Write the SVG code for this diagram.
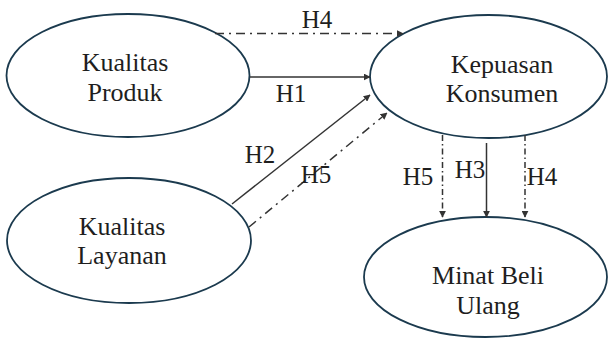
<svg xmlns="http://www.w3.org/2000/svg" width="609" height="338" viewBox="0 0 609 338">
<defs>
<marker id="ah" viewBox="0 0 10 10" refX="9" refY="5" markerWidth="7" markerHeight="7" markerUnits="userSpaceOnUse" orient="auto"><path d="M0,0 L10,5 L0,10 z" fill="#333"/></marker>
<style>
.node{fill:#fff;stroke:#1b3a4e;stroke-width:1.8}
.t{font-family:"Liberation Serif","Times New Roman",serif;font-size:26px;fill:#1e1e1e;text-anchor:middle}
.l{font-family:"Liberation Serif","Times New Roman",serif;font-size:25px;fill:#1e1e1e;text-anchor:middle}
.c{stroke:#333;stroke-width:1.5;fill:none;marker-end:url(#ah)}
.dd{stroke-dasharray:9 5 2 5}
.dv{stroke-dasharray:6 3 1.5 3}
</style>
</defs>
<rect width="609" height="338" fill="#fff"/>
<g id="kualitas-produk"><ellipse class="node" cx="128" cy="75.5" rx="121.5" ry="61.5"/><text class="t" x="125" y="71">Kualitas</text><text class="t" x="125" y="101">Produk</text></g>
<g id="kepuasan-konsumen"><ellipse class="node" cx="488.5" cy="76.5" rx="118.5" ry="61.5"/><text class="t" x="502" y="73">Kepuasan</text><text class="t" x="502" y="102">Konsumen</text></g>
<g id="kualitas-layanan"><ellipse class="node" cx="129" cy="240.5" rx="122" ry="62.5"/><text class="t" x="122" y="235">Kualitas</text><text class="t" x="122" y="264">Layanan</text></g>
<g id="minat-beli-ulang"><ellipse class="node" cx="485.5" cy="277" rx="121.5" ry="60"/><text class="t" x="488" y="284">Minat Beli</text><text class="t" x="488" y="314">Ulang</text></g>
<g id="connectors">
<path class="c dd" d="M215,33.5 L403,33.5"/>
<path class="c" d="M250,77 L370,77"/>
<path class="c" d="M232,204 L370,95"/>
<path class="c dd" d="M249,227 L387,113"/>
<path class="c dv" d="M442.5,135 L442.5,217"/>
<path class="c" d="M486.5,143 L486.5,217"/>
<path class="c dv" d="M525,135 L525,217"/>
</g>
<g id="labels">
<text class="l" x="317" y="28">H4</text>
<text class="l" x="291" y="102">H1</text>
<text class="l" x="260" y="163">H2</text>
<text class="l" x="316" y="183">H5</text>
<text class="l" x="418" y="185">H5</text>
<text class="l" x="470" y="178">H3</text>
<text class="l" x="542" y="185">H4</text>
</g>
</svg>
